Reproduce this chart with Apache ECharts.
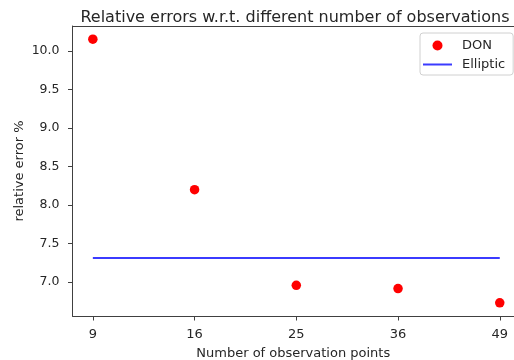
<!DOCTYPE html>
<html>
<head>
<meta charset="utf-8">
<script src="https://cdn.jsdelivr.net/npm/echarts@6/dist/echarts.min.js"></script>
<style>
  html, body { margin: 0; padding: 0; background: #fff; }
  #chart { width: 514px; height: 360px; }
</style>
</head>
<body>
<div id="chart"></div>
<script>
// Number of observation points (equally spaced categories)
const observations = ['9', '16', '25', '36', '49'];
// Relative error (%) of the DON model
const donErrors = [10.152, 8.197, 6.955, 6.913, 6.727];
// Relative error (%) of the Elliptic reference
const ellipticErrors = [7.31, 7.31, 7.31, 7.31, 7.31];
// Y tick labels
const yTicks = [7.0, 7.5, 8.0, 8.5, 9.0, 9.5, 10.0];

const FONT = 'DejaVu Sans';
const TEXT = '#262626';
const SPINE = '#404040';

const idx = observations.map((_, i) => i);
const yMin = 6.556, yMax = 10.323;

const chart = echarts.init(document.getElementById('chart'), null, { renderer: 'canvas' });
chart.setOption({
  animation: false,
  backgroundColor: '#fff',
  textStyle: { fontFamily: FONT },
  title: {
    text: 'Relative errors w.r.t. different number of observations',
    left: 290,
    textAlign: 'center',
    top: 5,
    textStyle: { fontFamily: FONT, fontSize: 16, fontWeight: 'normal', color: TEXT }
  },
  legend: {
    orient: 'vertical',
    left: 420,
    top: 33,
    width: 92,
    padding: [6, 8, 4, 3],
    itemWidth: 29,
    itemHeight: 10,
    itemGap: 6,
    borderColor: '#d0d0d0',
    borderWidth: 1,
    borderRadius: 3,
    backgroundColor: 'rgba(255,255,255,0.8)',
    textStyle: { fontFamily: FONT, fontSize: 13, color: TEXT, padding: [0, 0, 0, 5] },
    data: [
      { name: 'DON', icon: 'circle', itemStyle: { color: '#ff0000', opacity: 1 } },
      { name: 'Elliptic', icon: 'path://M0,0 L29,0 L29,2 L0,2 Z', itemStyle: { color: '#3b3bff', opacity: 1 } }
    ]
  },
  grid: {
    left: 72.5,
    top: 26,
    right: 0,
    height: 290,
    show: false,
    containLabel: false,
    outerBoundsMode: 'none'
  },
  xAxis: [
    {
      type: 'value',
      min: -0.2,
      max: 4.14,
      name: 'Number of observation points',
      nameLocation: 'middle',
      nameGap: 31,
      nameTextStyle: { fontFamily: FONT, fontSize: 13, color: TEXT },
      axisLine: { show: true, onZero: false, lineStyle: { color: SPINE, width: 1 } },
      axisTick: { show: true, length: 4.5, inside: false, customValues: idx, lineStyle: { color: SPINE } },
      axisLabel: {
        customValues: idx,
        margin: 12,
        fontFamily: FONT, fontSize: 13, color: TEXT,
        formatter: v => observations[Math.round(v)]
      },
      splitLine: { show: false }
    },
    {
      // top frame line
      type: 'value',
      position: 'top',
      min: -0.2,
      max: 4.14,
      axisLine: { show: true, onZero: false, lineStyle: { color: SPINE, width: 1 } },
      axisTick: { show: false },
      axisLabel: { show: false },
      splitLine: { show: false }
    }
  ],
  yAxis: {
    type: 'value',
    min: yMin,
    max: yMax,
    name: 'relative error %',
    nameLocation: 'middle',
    nameGap: 46.5,
    nameMoveOverlap: false,
    nameTextStyle: { fontFamily: FONT, fontSize: 13, color: TEXT },
    axisLine: { show: true, onZero: false, lineStyle: { color: SPINE, width: 1 } },
    axisTick: { show: true, length: 4.5, inside: false, customValues: yTicks, lineStyle: { color: SPINE } },
    axisLabel: {
      customValues: yTicks,
      margin: 13,
      fontFamily: FONT, fontSize: 12.5, color: TEXT,
      formatter: v => Number(v).toFixed(1)
    },
    splitLine: { show: false }
  },
  series: [
    {
      name: 'DON',
      type: 'scatter',
      symbol: 'circle',
      symbolSize: 9.5,
      itemStyle: { color: '#ff0000', opacity: 1 },
      data: idx.map(i => [i, donErrors[i]]),
      z: 3
    },
    {
      name: 'Elliptic',
      type: 'line',
      symbol: 'none',
      showSymbol: false,
      lineStyle: { color: '#3b3bff', width: 2 },
      itemStyle: { color: '#3b3bff' },
      data: idx.map(i => [i, ellipticErrors[i]]),
      z: 2
    }
  ]
});
</script>
</body>
</html>
